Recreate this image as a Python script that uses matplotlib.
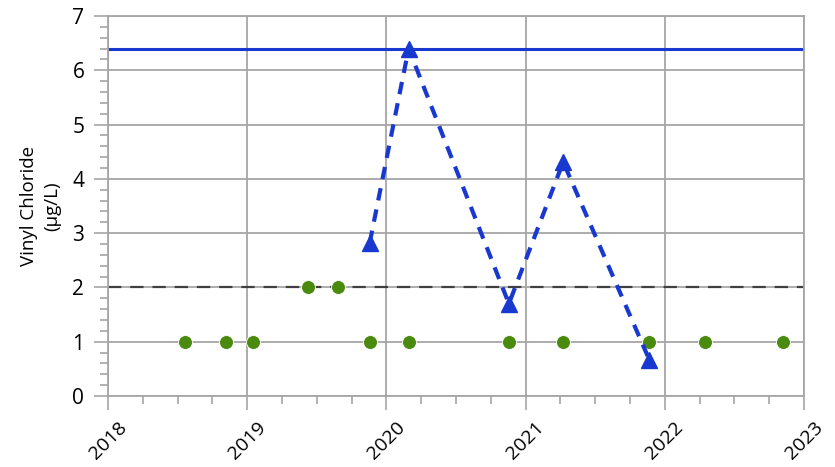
import matplotlib; matplotlib.use("Agg")
import matplotlib.pyplot as plt
from matplotlib.ticker import MultipleLocator

# sample dates as decimal years
det_x = [2019.88, 2020.16, 2020.88, 2021.27, 2021.89]
det_y = [2.82, 6.40, 1.70, 4.31, 0.66]
nd_x = [2018.55, 2018.85, 2019.04, 2019.44, 2019.65, 2019.88, 2020.16,
        2020.88, 2021.27, 2021.89, 2022.29, 2022.85]
nd_y = [1, 1, 1, 2, 2, 1, 1, 1, 1, 1, 1, 1]
LIMIT = 6.4
REPORT = 2.0
YEARS = [2018, 2019, 2020, 2021, 2022, 2023]

plt.rcParams["font.family"] = ["Open Sans", "DejaVu Sans"]
BLUE, GREEN, GRID = "#1838d0", "#4a8a0e", "#a6a6a6"

fig = plt.figure(figsize=(8.35, 4.67), dpi=100)
ax = fig.add_axes([0.1293, 0.152, 0.8336, 0.8138])

ax.set_xlim(YEARS[0], YEARS[-1]); ax.set_ylim(0, 7)
ax.set_xticks(YEARS); ax.set_xticklabels([str(y) for y in YEARS], rotation=45, ha="center")
ax.xaxis.set_minor_locator(MultipleLocator(0.25))
ax.yaxis.set_major_locator(MultipleLocator(1)); ax.yaxis.set_minor_locator(MultipleLocator(0.2))
ax.tick_params(which="major", length=10, width=1.2, color=GRID, labelsize=15)
ax.tick_params(which="minor", length=6, width=1.2, color=GRID)
ax.tick_params(axis="x", pad=6, labelsize=14)
ax.tick_params(axis="y", pad=7)
ax.grid(True, which="major", color=GRID, lw=1.3, zorder=0)
for s in ax.spines.values():
    s.set_color(GRID); s.set_linewidth(1.3)
ax.set_axisbelow(True)

ax.axhline(LIMIT, color=BLUE, lw=2.2, zorder=2)
ax.axhline(REPORT, color="#404040", lw=1.6, ls=(0, (6, 4)), zorder=2)
ax.plot(nd_x, nd_y, "o", color=GREEN, ms=10, mec="white", mew=0.6, zorder=3, ls="none")
ax.plot(det_x, det_y, color=BLUE, lw=3, ls=(0, (3, 2.2)), zorder=4)
ax.plot(det_x, det_y, "^", color=BLUE, ms=11, zorder=5, ls="none")

ax.set_ylabel("Vinyl Chloride\n(µg/L)", fontsize=13.5, linespacing=1.4, labelpad=8)

fig.savefig("out.png", dpi=100)
